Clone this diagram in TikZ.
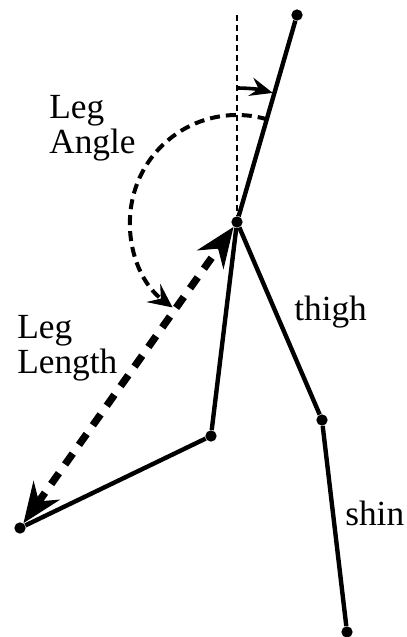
\documentclass[tikz,border=0pt]{standalone}
\usepackage{fontspec}
\setmainfont{Liberation Serif}
\usetikzlibrary{arrows.meta, positioning}

\begin{document}
\begin{tikzpicture}[
    x=0.75pt, y=-0.75pt,
    joint/.style={circle, fill=black, inner sep=0pt, minimum size=8.5pt},
    limb/.style={line width=3.3pt},
    label/.style={font=\fontsize{26.5}{26.25}\selectfont, align=left, inner sep=0pt},
    anglearrow/.style={line width=3pt, dash pattern=on 7.5pt off 4.5pt, -{Stealth[length=18pt, width=17pt, inset=7pt]}},
    lenarrow/.style={line width=5.5pt, dash pattern=on 10pt off 8pt, {Stealth[length=30pt, width=24pt, inset=10pt]}-{Stealth[length=30pt, width=24pt, inset=10pt]}},
    swing/.style={line width=2.7pt, -{Stealth[length=17pt, width=14pt, inset=6pt]}}
]
\useasboundingbox (0,0) rectangle (407,637);

% Joints
\node (top) [joint] at (297,15) {};
\node (hip) [joint] at (237,222) {};
\node (kneeL) [joint] at (211,436) {};
\node (foot) [joint] at (20,528) {};
\node (kneeR) [joint] at (322,420) {};
\node (ankle) [joint] at (347,632) {};
\coordinate (vtop) at (237,15);

% Labels
\node (angle) [label, anchor=base west] at (49,153) {Leg\\Angle};
\node (length) [label, anchor=base west] at (17,373) {Leg\\Length};
\node (thigh) [label, anchor=base west] at (294,320) {thigh};
\node (shin) [label, anchor=base west] at (345,525) {shin};

% Reference line
\draw [line width=0.8pt, dash pattern=on 4.5pt off 3pt] (vtop) -- (hip);

% Limbs
\draw [limb] (top) -- (hip);
\draw [limb] (hip) -- (kneeL) -- (foot);
\draw [limb] (hip) -- (kneeR) -- (ankle);

% Arrows
\draw [swing] (hip) ++(-90:134) arc (-90:-74.5:134);
\draw [anglearrow] (hip) ++(-73.5:107) arc (-73.5:-233:107);
\draw [lenarrow] (foot) -- (hip);

\end{tikzpicture}
\end{document}
